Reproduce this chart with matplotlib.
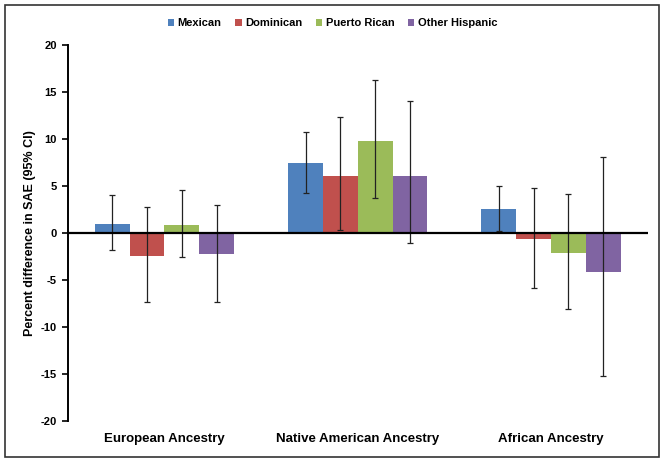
import numpy as np
from matplotlib import pyplot as plt
from matplotlib.patches import Rectangle

plt.rcParams['font.family'] = ['Liberation Sans', 'DejaVu Sans']
plt.rcParams['font.weight'] = 'bold'
plt.rcParams['axes.unicode_minus'] = False

#%% data
groups = ['European Ancestry', 'Native American Ancestry', 'African Ancestry']
series = ['Mexican', 'Dominican', 'Puerto Rican', 'Other Hispanic']
colors = ['#4F81BD', '#C0504D', '#9BBB59', '#8064A2']

mexican = [1.0, 7.5, 2.5]
mexican_lo = [-1.8, 4.3, 0.2]
mexican_hi = [4.0, 10.8, 5.0]

dominican = [-2.4, 6.1, -0.6]
dominican_lo = [-7.3, 0.3, -5.9]
dominican_hi = [2.8, 12.3, 4.8]

puerto_rican = [0.9, 9.8, -2.1]
puerto_rican_lo = [-2.6, 3.7, -8.1]
puerto_rican_hi = [4.6, 16.3, 4.2]

other = [-2.2, 6.1, -4.2]
other_lo = [-7.4, -1.1, -15.2]
other_hi = [3.0, 14.0, 8.1]

yticks = [-20, -15, -10, -5, 0, 5, 10, 15, 20]

vals = [mexican, dominican, puerto_rican, other]
los = [mexican_lo, dominican_lo, puerto_rican_lo, other_lo]
his = [mexican_hi, dominican_hi, puerto_rican_hi, other_hi]

#%% plot
fig = plt.figure(figsize=(6.65, 4.65), dpi=100)
ax = fig.add_axes([0.102, 0.095, 0.872, 0.808])

x = np.arange(len(groups))
w = 0.18
for k in range(len(series)):
    pos = x + (k - 1.5) * w
    v = np.array(vals[k])
    err = [v - np.array(los[k]), np.array(his[k]) - v]
    ax.bar(pos, v, w, color=colors[k], label=series[k], zorder=2)
    ax.errorbar(pos, v, yerr=err, fmt='none', ecolor='#222222',
                elinewidth=0.9, capsize=2.5, capthick=0.9, zorder=3)

ax.axhline(0, color='black', lw=1.6, zorder=4)
ax.set_xlim(-0.5, 2.5)
ax.set_ylim(-20, 20)
ax.set_yticks(yticks)
ax.set_xticks(x)
ax.set_xticklabels(groups, fontsize=9.5, fontweight='bold')
ax.tick_params(axis='x', length=0, pad=9)
ax.tick_params(axis='y', direction='out', length=4, width=1.2, labelsize=8, pad=4)
for s in ['top', 'right', 'bottom']:
    ax.spines[s].set_visible(False)
ax.spines['left'].set_linewidth(1.4)
ax.set_ylabel('Percent difference in SAE (95% CI)', fontsize=9, fontweight='bold', labelpad=3)

fig.legend(loc='center', bbox_to_anchor=(0.5, 0.95), ncol=4, frameon=False,
           fontsize=8, handlelength=0.6, handleheight=0.6, handletextpad=0.3,
           columnspacing=1.2)

fig.patches.append(Rectangle((0.008, 0.017), 0.983, 0.972, transform=fig.transFigure,
                             fill=False, edgecolor='#333333', lw=1.2))

fig.savefig('out.png', dpi=100)
